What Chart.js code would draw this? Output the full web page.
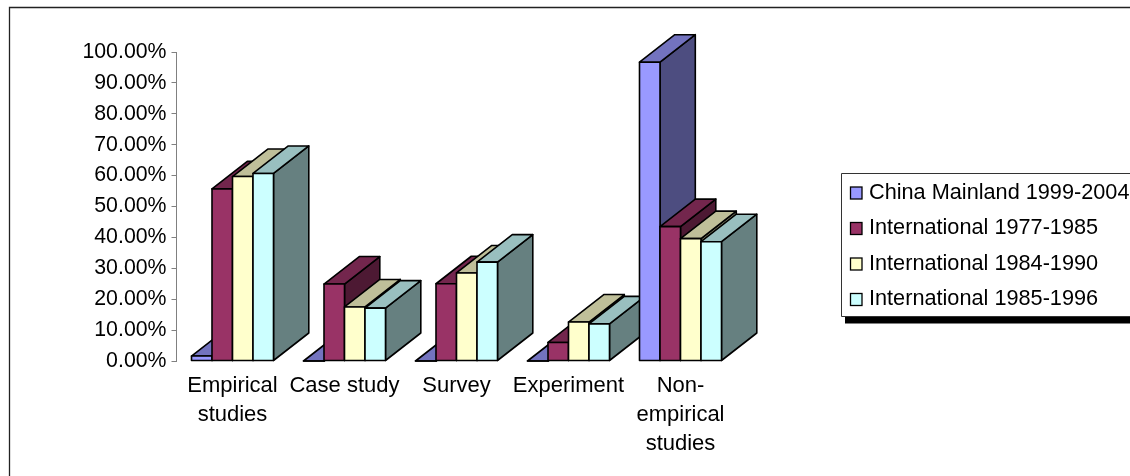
<!DOCTYPE html>
<html>
<head>
<meta charset="utf-8">
<style>html,body{margin:0;padding:0;background:#fff;overflow:hidden}canvas{display:block}</style>
<script src="https://cdn.jsdelivr.net/npm/chart.js@4"></script>
</head>
<body>
<canvas id="c" width="1130" height="476"></canvas>
<script>
const categories = ['Empirical studies', 'Case study', 'Survey', 'Experiment', 'Non-empirical studies'];
const categoryLines = [['Empirical', 'studies'], ['Case study'], ['Survey'], ['Experiment'], ['Non-', 'empirical', 'studies']];
const seriesNames = ['China Mainland 1999-2004', 'International 1977-1985', 'International 1984-1990', 'International 1985-1996'];
const chinaMainland = [1.6, 0, 0, 0, 96.7];
const intl7785 = [55.7, 24.9, 25, 6, 43.5];
const intl8490 = [59.7, 17.5, 28.5, 12.6, 39.6];
const intl8596 = [60.7, 17.1, 32, 12, 38.6];
const seriesValues = [chinaMainland, intl7785, intl8490, intl8596];
const frontColors = ['#9999FF', '#993366', '#FFFFCC', '#CCFFFF'];
const topColors = ['#7373BF', '#73264D', '#BFBF99', '#99BFBF'];
const sideColors = ['#4D4D80', '#4D1933', '#808066', '#668080'];
const FONT = '"Liberation Sans", Arial, sans-serif';

const depth = {dx: 35.3, dy: -27.5};
function poly(ctx, pts, fill) {
  ctx.beginPath();
  pts.forEach((p, i) => i ? ctx.lineTo(p[0], p[1]) : ctx.moveTo(p[0], p[1]));
  ctx.closePath();
  ctx.fillStyle = fill;
  ctx.fill();
  ctx.stroke();
}

const bars3d = {
  id: 'bars3d',
  beforeDatasetDraw() { return false; },
  afterDatasetsDraw(chart) {
    const ctx = chart.ctx;
    ctx.save();
    ctx.strokeStyle = '#000';
    ctx.lineWidth = 1.6;
    ctx.lineJoin = 'round';
    categories.forEach((_, i) => {
      seriesValues.forEach((_, s) => {
        const el = chart.getDatasetMeta(s).data[i];
        const l = el.x - el.width / 2, r = el.x + el.width / 2, t = el.y, b = el.base;
        const {dx, dy} = depth;
        poly(ctx, [[r, t], [r + dx, t + dy], [r + dx, b + dy], [r, b]], sideColors[s]);
        poly(ctx, [[l, t], [l + dx, t + dy], [r + dx, t + dy], [r, t]], topColors[s]);
        poly(ctx, [[l, t], [r, t], [r, b], [l, b]], frontColors[s]);
      });
    });
    ctx.restore();
  },
  afterDraw(chart) {
    const ctx = chart.ctx;
    ctx.save();
    // outer frame (right and bottom edges fall outside the picture)
    ctx.strokeStyle = '#222';
    ctx.lineWidth = 1.3;
    ctx.beginPath();
    ctx.moveTo(9.5, 476); ctx.lineTo(9.5, 7.5); ctx.lineTo(1130, 7.5);
    ctx.stroke();
    // legend
    ctx.fillStyle = '#000';
    ctx.fillRect(845, 317, 285, 6.5);
    ctx.fillStyle = '#fff';
    ctx.fillRect(841.5, 173.5, 300, 143);
    ctx.strokeStyle = '#333';
    ctx.lineWidth = 1;
    ctx.beginPath();
    ctx.moveTo(1130, 173.5); ctx.lineTo(841.5, 173.5); ctx.lineTo(841.5, 316.5); ctx.lineTo(1130, 316.5);
    ctx.stroke();
    ctx.font = '21.7px ' + FONT;
    ctx.textBaseline = 'middle';
    ctx.textAlign = 'left';
    seriesNames.forEach((name, s) => {
      const y = 193 + s * 35.5;
      ctx.fillStyle = frontColors[s];
      ctx.strokeStyle = '#000';
      ctx.lineWidth = 1.3;
      ctx.fillRect(850.5, y - 6, 11.5, 12);
      ctx.strokeRect(850.5, y - 6, 11.5, 12);
      ctx.fillStyle = '#000';
      ctx.fillText(name, 869, y);
    });
    ctx.restore();
  }
};

new Chart(document.getElementById('c'), {
  type: 'bar',
  data: {
    labels: categoryLines,
    datasets: seriesNames.map((name, s) => ({
      label: name,
      data: seriesValues[s],
      backgroundColor: frontColors[s],
      borderColor: '#000',
      borderWidth: 1.6,
      borderSkipped: false
    }))
  },
  options: {
    responsive: false,
    animation: false,
    devicePixelRatio: 1,
    categoryPercentage: 82 / 112,
    barPercentage: 1,
    layout: {padding: {top: 52, right: 393.5, left: 0, bottom: 0}},
    plugins: {legend: {display: false}, tooltip: {enabled: false}, title: {display: false}},
    scales: {
      x: {
        grid: {display: false},
        border: {display: false},
        afterFit(scale) { scale.height = 115; },
        ticks: {
          autoSkip: false, maxRotation: 0, minRotation: 0, padding: 2,
          color: '#000', font: {family: FONT, size: 22, lineHeight: 1.318}
        }
      },
      y: {
        min: 0, max: 100,
        afterFit(scale) { scale.width = 176.5; },
        grid: {drawOnChartArea: false, drawTicks: true, tickLength: 5, color: '#808080', lineWidth: 1},
        border: {display: true, color: '#808080', width: 1},
        ticks: {
          stepSize: 10, padding: 5, color: '#000',
          font: {family: FONT, size: 21.3},
          callback: v => v.toFixed(2) + '%'
        }
      }
    }
  },
  plugins: [bars3d]
});
</script>
</body>
</html>
